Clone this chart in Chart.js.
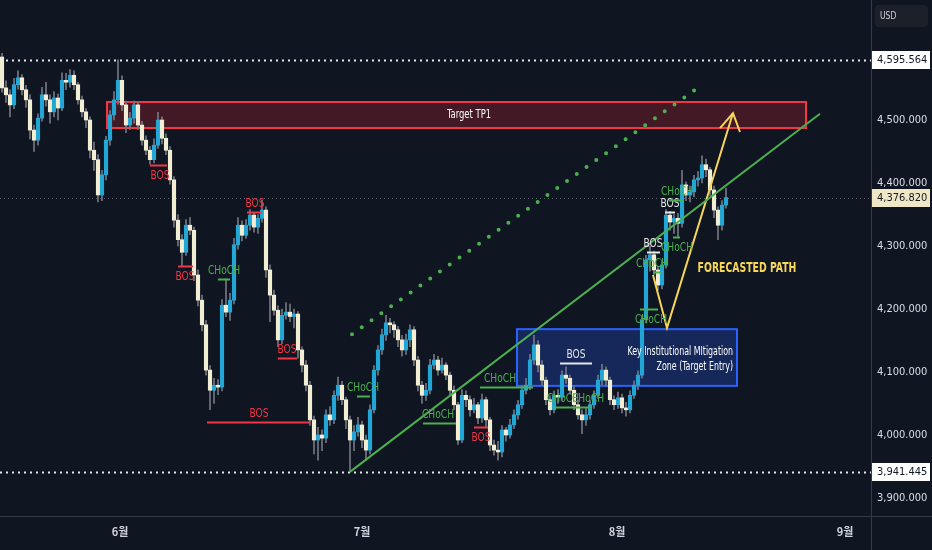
<!DOCTYPE html>
<html>
<head>
<meta charset="utf-8">
<script src="https://cdn.jsdelivr.net/npm/chart.js@4.4.1/dist/chart.umd.min.js"></script>
<style>
  html, body { margin: 0; padding: 0; background: #0f1521; }
  #wrap { width: 932px; height: 550px; }
</style>
</head>
<body>
<div id="wrap"><canvas id="priceChart" width="932" height="550"></canvas></div>
<script>
// candles, bar 0 is the first one on the left
const firstOpen = 4600;
const closes = [
  4551, 4540, 4524, 4556, 4567, 4548, 4532, 4484, 4468, 4503,
  4540, 4532, 4513, 4535, 4519, 4563, 4560, 4571, 4556, 4532,
  4513, 4500, 4452, 4437, 4381, 4413, 4468, 4508, 4532, 4563,
  4524, 4492, 4503, 4524, 4492, 4468, 4452, 4437, 4460, 4500,
  4471, 4452, 4405, 4341, 4310, 4290, 4333, 4325, 4254, 4214,
  4175, 4103, 4071, 4079, 4076, 4206, 4195, 4214, 4302, 4333,
  4317, 4333, 4349, 4330, 4344, 4357, 4262, 4222, 4198, 4151,
  4190, 4195, 4188, 4192, 4135, 4111, 4079, 4024, 3992, 4000,
  3995, 4032, 4024, 4063, 4079, 4056, 4024, 3992, 4005, 4016,
  3992, 3976, 4040, 4103, 4135, 4159, 4178, 4175, 4167, 4151,
  4135, 4151, 4167, 4119, 4079, 4063, 4071, 4111, 4119, 4103,
  4111, 4095, 4071, 4048, 3992, 4063, 4056, 4040, 4048, 4027,
  4056, 4024, 3984, 3976, 3973, 4008, 4000, 4016, 4032, 4048,
  4071, 4079, 4119, 4143, 4111, 4087, 4056, 4040, 4063, 4060,
  4095, 4090, 4071, 4048, 4032, 4024, 4032, 4048, 4063, 4087,
  4103, 4087, 4056, 4048, 4059, 4043, 4040, 4063, 4079, 4095,
  4183, 4278, 4286, 4262, 4238, 4270, 4349, 4338, 4344, 4336,
  4397, 4381, 4386, 4405, 4408, 4429, 4421, 4389, 4357, 4333,
  4365, 4376.82
];
const highs = [
  4606, 4562, 4548, 4566, 4578, 4572, 4555, 4540, 4492, 4510,
  4552, 4560, 4540, 4545, 4541, 4575, 4574, 4580, 4578, 4560,
  4538, 4518, 4505, 4465, 4445, 4420, 4474, 4515, 4545, 4595.56,
  4570, 4530, 4512, 4530, 4528, 4498, 4475, 4458, 4470, 4512,
  4505, 4478, 4458, 4410, 4350, 4318, 4342, 4345, 4330, 4262,
  4222, 4182, 4110, 4090, 4088, 4215, 4248, 4225, 4312, 4345,
  4340, 4342, 4358, 4352, 4350, 4373, 4362, 4270, 4230, 4205,
  4200, 4210, 4208, 4200, 4196, 4140, 4118, 4085, 4030, 4012,
  4008, 4040, 4045, 4070, 4092, 4085, 4060, 4030, 4015, 4028,
  4022, 4000, 4048, 4110, 4142, 4168, 4190, 4185, 4180, 4172,
  4158, 4160, 4175, 4172, 4125, 4085, 4082, 4120, 4128, 4125,
  4122, 4115, 4100, 4078, 4052, 4072, 4070, 4062, 4058, 4052,
  4065, 4060, 4028, 3992, 3990, 4015, 4012, 4025, 4040, 4055,
  4078, 4090, 4128, 4158, 4150, 4118, 4092, 4062, 4070, 4072,
  4102, 4108, 4095, 4078, 4055, 4040, 4042, 4055, 4070, 4095,
  4112, 4108, 4092, 4062, 4068, 4065, 4052, 4070, 4086, 4102,
  4190, 4285, 4300, 4292, 4268, 4278, 4358, 4355, 4350, 4352,
  4420, 4402, 4395, 4412, 4418, 4443, 4438, 4425, 4395, 4362,
  4372, 4392
];
const lows = [
  4544, 4528, 4505, 4518, 4549, 4540, 4520, 4470, 4450, 4460,
  4498, 4522, 4495, 4505, 4500, 4515, 4548, 4552, 4548, 4525,
  4505, 4488, 4440, 4420, 4370, 4372, 4405, 4460, 4500, 4525,
  4515, 4480, 4485, 4495, 4485, 4460, 4445, 4430, 4432, 4455,
  4462, 4445, 4398, 4330, 4300, 4268, 4285, 4318, 4245, 4205,
  4165, 4095, 4040, 4050, 4064, 4070, 4188, 4182, 4208, 4295,
  4308, 4312, 4325, 4322, 4320, 4338, 4250, 4180, 4190, 4140,
  4145, 4184, 4180, 4170, 4122, 4100, 4070, 4015, 3970, 3960,
  3975, 3988, 4015, 4018, 4055, 4048, 4010, 3941.45, 3975, 3998,
  3980, 3960, 3970, 4035, 4095, 4128, 4150, 4162, 4155, 4140,
  4125, 4128, 4140, 4110, 4070, 4050, 4055, 4065, 4105, 4095,
  4098, 4088, 4062, 4040, 3985, 3988, 4045, 4030, 4035, 4018,
  4020, 4013, 3975, 3968, 3960, 3965, 3990, 3995, 4010, 4025,
  4042, 4065, 4072, 4112, 4100, 4080, 4048, 4032, 4035, 4050,
  4055, 4082, 4065, 4040, 4025, 4002, 4015, 4025, 4042, 4058,
  4080, 4078, 4048, 4040, 4042, 4035, 4030, 4035, 4058, 4072,
  4090, 4178, 4260, 4255, 4230, 4232, 4265, 4325, 4320, 4315,
  4330, 4372, 4370, 4378, 4395, 4400, 4410, 4380, 4345, 4310,
  4325, 4360
];
// each bar opens where the previous one closed
const opens = [firstOpen, ...closes.slice(0, -1)];

const monthTicks = [29.5, 90, 153.75, 210.75];
const monthLabels = ['6월', '7월', '8월', '9월'];
const priceTicks = [3900, 4000, 4100, 4200, 4300, 4400, 4500];

const lastPrice = 4376.82;
const markedHigh = 4595.564;
const markedLow = 3941.445;

// drawings, in bar index / price units
const trendLine = [{ x: 87, y: 3941.45 }, { x: 204.5, y: 4510 }];
const dottedChannel = [{ x: 87.5, y: 4160 }, { x: 175.25, y: 4557 }];
const forecastPath = [{ x: 162.75, y: 4254 }, { x: 166.25, y: 4170 }, { x: 182.75, y: 4511 }];
const arrowHead = [{ x: 179.5, y: 4487 }, { x: 182.75, y: 4511 }, { x: 184.5, y: 4481 }];

const targetZone = { from: 26.25, to: 201, top: 4528.6, bottom: 4487.3, label: 'Target TP1', labelAt: 116.75 };
const entryZone = { from: 128.75, to: 183.75, top: 4168, bottom: 4078 };
const entryText = [
  { text: 'Key Institutional MItigation', at: 182.75, price: 4131.5 },
  { text: 'Zone (Target Entry)', at: 182.75, price: 4108 }
];
const forecastText = { text: 'FORECASTED PATH', at: 186.25, price: 4265 };

const structureMarks = [
  { from: 37, to: 41.25, price: 4428.6, text: 'BOS', tone: 'bear', side: 'below', at: 39.5 },
  { from: 44, to: 47.75, price: 4268, text: 'BOS', tone: 'bear', side: 'below', at: 45.75 },
  { from: 61.25, to: 65, price: 4354, text: 'BOS', tone: 'bear', side: 'above', at: 63.25 },
  { from: 54, to: 57, price: 4248, text: 'CHoCH', tone: 'bull', side: 'above', at: 55.5 },
  { from: 69, to: 73.75, price: 4122, text: 'BOS', tone: 'bear', side: 'above', at: 71.25 },
  { from: 51.25, to: 77, price: 4021, text: 'BOS', tone: 'bear', side: 'above', at: 64.25 },
  { from: 88.75, to: 92, price: 4062, text: 'CHoCH', tone: 'bull', side: 'above', at: 90.25 },
  { from: 105.25, to: 113.5, price: 4019, text: 'CHoCH', tone: 'bull', side: 'above', at: 109 },
  { from: 118, to: 121.5, price: 4013, text: 'BOS', tone: 'bear', side: 'below', at: 119.75 },
  { from: 119.5, to: 132.75, price: 4076, text: 'CHoCH', tone: 'bull', side: 'above', at: 124.5 },
  { from: 139.5, to: 147.5, price: 4114, text: 'BOS', tone: 'plain', side: 'above', at: 143.5 },
  { from: 137.75, to: 143.25, price: 4044, text: 'CHoCH', tone: 'bull', side: 'above', at: 140.25 },
  { from: 143.25, to: 147.5, price: 4044, text: 'CHoCH', tone: 'bull', side: 'above', at: 146.5 },
  { from: 159.5, to: 164, price: 4200, text: 'CHoCH', tone: 'bull', side: 'below', at: 162.25 },
  { from: 161.25, to: 164.5, price: 4290, text: 'BOS', tone: 'plain', side: 'above', at: 162.75 },
  { from: 162.75, to: 165, price: 4259, text: 'CHoCH', tone: 'bull', side: 'above', at: 162.5 },
  { from: 167.75, to: 169.5, price: 4314, text: 'CHoCH', tone: 'bull', side: 'below', at: 168.75 },
  { from: 165.75, to: 168.25, price: 4354, text: 'BOS', tone: 'plain', side: 'above', at: 167 },
  { from: 166.75, to: 170.25, price: 4373, text: 'CHoCH', tone: 'bull', side: 'above', at: 168.75 }
];

const toneColors = { bear: '#f23645', bull: '#4caf50', plain: '#e6e6e6' };
const upColor = '#22a6d6';
const downColor = '#f2eed3';
const narrowFont = "'DejaVu Sans Condensed', 'DejaVu Sans', sans-serif";

// squeezed text, the chart labels are narrow
function drawLabel(ctx, text, x, y, color, font, align, squeeze) {
  ctx.save();
  ctx.translate(x, y);
  ctx.scale(squeeze || 0.78, 1);
  ctx.font = font;
  ctx.fillStyle = color;
  ctx.textAlign = align || 'center';
  ctx.textBaseline = 'middle';
  ctx.fillText(text, 0, 0);
  ctx.restore();
}

function hLine(ctx, x1, x2, y, color, width, dash) {
  ctx.save();
  ctx.strokeStyle = color;
  ctx.lineWidth = width;
  ctx.setLineDash(dash || []);
  ctx.beginPath();
  ctx.moveTo(x1, y);
  ctx.lineTo(x2, y);
  ctx.stroke();
  ctx.restore();
}

function priceTag(ctx, y, text, bg) {
  ctx.save();
  ctx.fillStyle = bg;
  ctx.fillRect(872, Math.round(y) - 9, 58, 18);
  ctx.font = '11px ' + narrowFont;
  ctx.fillStyle = '#131722';
  ctx.textAlign = 'left';
  ctx.textBaseline = 'middle';
  ctx.fillText(text, 877, Math.round(y) + 0.5);
  ctx.restore();
}

// no extra room around the plot, the axes sit right on the edges
function noPadding(axis) {
  axis.paddingTop = 0;
  axis.paddingBottom = 0;
  axis.paddingLeft = 0;
  axis.paddingRight = 0;
}

const overlays = {
  id: 'overlays',
  beforeDraw(chart) {
    const ctx = chart.ctx;
    ctx.save();
    ctx.fillStyle = '#0f1521';
    ctx.fillRect(0, 0, chart.width, chart.height);
    ctx.restore();
  },
  beforeDatasetsDraw(chart) {
    const { ctx, chartArea: a, scales: { x, y } } = chart;
    hLine(ctx, a.left, a.right, Math.round(y.getPixelForValue(markedHigh)) + 0.5, '#e8e8e8', 2, [2, 4]);
    hLine(ctx, a.left, a.right, Math.round(y.getPixelForValue(markedLow)) + 0.5, '#e8e8e8', 2, [2, 4]);
    hLine(ctx, a.left, a.right, Math.round(y.getPixelForValue(lastPrice)) + 0.5, '#5f6370', 1, [1, 3]);

    const boxes = [
      [targetZone, 'rgba(130, 30, 45, 0.45)', '#f23645'],
      [entryZone, 'rgba(35, 80, 200, 0.34)', '#2962ff']
    ];
    boxes.forEach(([z, fill, stroke]) => {
      const x1 = x.getPixelForValue(z.from), x2 = x.getPixelForValue(z.to);
      const y1 = y.getPixelForValue(z.top), y2 = y.getPixelForValue(z.bottom);
      ctx.save();
      ctx.fillStyle = fill;
      ctx.fillRect(x1, y1, x2 - x1, y2 - y1);
      ctx.strokeStyle = stroke;
      ctx.lineWidth = 2;
      ctx.strokeRect(x1, y1, x2 - x1, y2 - y1);
      ctx.restore();
    });
  },
  afterDatasetsDraw(chart) {
    const { ctx, scales: { x, y } } = chart;
    structureMarks.forEach(m => {
      const ly = Math.round(y.getPixelForValue(m.price)) + 0.5;
      const c = toneColors[m.tone];
      hLine(ctx, x.getPixelForValue(m.from), x.getPixelForValue(m.to), ly, c, 2);
      const ty = m.side === 'above' ? ly - 9 : ly + 10;
      drawLabel(ctx, m.text, x.getPixelForValue(m.at), ty, c, '13px ' + narrowFont);
    });

    const midTarget = (targetZone.top + targetZone.bottom) / 2;
    drawLabel(ctx, targetZone.label, x.getPixelForValue(targetZone.labelAt), y.getPixelForValue(midTarget), '#ffffff', '12px ' + narrowFont);
    entryText.forEach(t => {
      drawLabel(ctx, t.text, x.getPixelForValue(t.at), y.getPixelForValue(t.price), '#ffffff', '12px ' + narrowFont, 'right', 0.73);
    });
    drawLabel(ctx, forecastText.text, x.getPixelForValue(forecastText.at), y.getPixelForValue(forecastText.price), '#f7d65a', 'bold 14px ' + narrowFont, 'center', 0.74);
  },
  afterDraw(chart) {
    const { ctx, scales: { y } } = chart;
    hLine(ctx, 0, chart.width, 516.5, '#363a45', 1);
    ctx.save();
    ctx.strokeStyle = '#363a45';
    ctx.beginPath();
    ctx.moveTo(871.5, 0);
    ctx.lineTo(871.5, chart.height);
    ctx.stroke();
    ctx.restore();

    priceTag(ctx, y.getPixelForValue(markedHigh), '4,595.564', '#ffffff');
    priceTag(ctx, y.getPixelForValue(markedLow), '3,941.445', '#ffffff');
    priceTag(ctx, y.getPixelForValue(lastPrice), '4,376.820', '#efe7c6');

    ctx.save();
    ctx.fillStyle = '#1c2029';
    ctx.beginPath();
    ctx.roundRect(875, 5, 53, 22, 4);
    ctx.fill();
    drawLabel(ctx, 'USD', 880, 16.5, '#d1d4dc', '10px ' + narrowFont, 'left', 0.85);
    ctx.restore();
  }
};

const ctx = document.getElementById('priceChart').getContext('2d');
new Chart(ctx, {
  type: 'bar',
  data: {
    datasets: [
      {
        label: 'trend',
        type: 'line',
        data: trendLine,
        borderColor: '#4caf50',
        borderWidth: 2,
        pointRadius: 0,
        order: 0
      },
      {
        label: 'channel',
        type: 'line',
        data: dottedChannel,
        borderColor: '#4caf50',
        borderWidth: 4,
        borderDash: [0, 12],
        borderCapStyle: 'round',
        pointRadius: 0,
        order: 0
      },
      {
        label: 'forecast',
        type: 'line',
        data: forecastPath,
        borderColor: '#f7d65a',
        borderWidth: 2,
        pointRadius: 0,
        order: 0
      },
      {
        label: 'arrow',
        type: 'line',
        data: arrowHead,
        borderColor: '#f7d65a',
        borderWidth: 2,
        pointRadius: 0,
        order: 0
      },
      {
        label: 'bodies',
        data: closes.map((c, i) => ({ x: i, y: [opens[i], c] })),
        backgroundColor: closes.map((c, i) => c >= opens[i] ? upColor : downColor),
        barThickness: 3.5,
        minBarLength: 1,
        grouped: false,
        order: 1
      },
      {
        label: 'wicks',
        data: closes.map((c, i) => ({ x: i, y: [lows[i], highs[i]] })),
        backgroundColor: '#737783',
        barThickness: 1,
        grouped: false,
        order: 2
      }
    ]
  },
  options: {
    responsive: false,
    animation: false,
    devicePixelRatio: 1,
    layout: { padding: 0 },
    plugins: { legend: { display: false }, tooltip: { enabled: false } },
    events: [],
    scales: {
      x: {
        type: 'linear',
        min: -0.5,
        max: 217.25,
        offset: false,
        grid: { display: false, drawTicks: false },
        border: { display: false },
        afterBuildTicks: axis => { axis.ticks = monthTicks.map(v => ({ value: v })); },
        afterFit: axis => { axis.height = 34; noPadding(axis); },
        ticks: {
          autoSkip: false,
          maxRotation: 0,
          padding: 9,
          color: '#d1d4dc',
          font: { family: "'Noto Sans CJK KR'", size: 11, weight: 'bold' },
          callback: (v, i) => monthLabels[i]
        }
      },
      y: {
        type: 'linear',
        position: 'right',
        min: 3871.4,
        max: 4690.5,
        grid: { display: false, drawTicks: false },
        border: { display: false },
        afterBuildTicks: axis => { axis.ticks = priceTicks.map(v => ({ value: v })); },
        afterFit: axis => { axis.width = 61; noPadding(axis); },
        ticks: {
          padding: 6,
          color: '#dcdfe6',
          font: { family: "'DejaVu Sans Condensed'", size: 11 },
          callback: v => v.toLocaleString('en-US', { minimumFractionDigits: 3, maximumFractionDigits: 3 })
        }
      }
    }
  },
  plugins: [overlays]
});
</script>
</body>
</html>
